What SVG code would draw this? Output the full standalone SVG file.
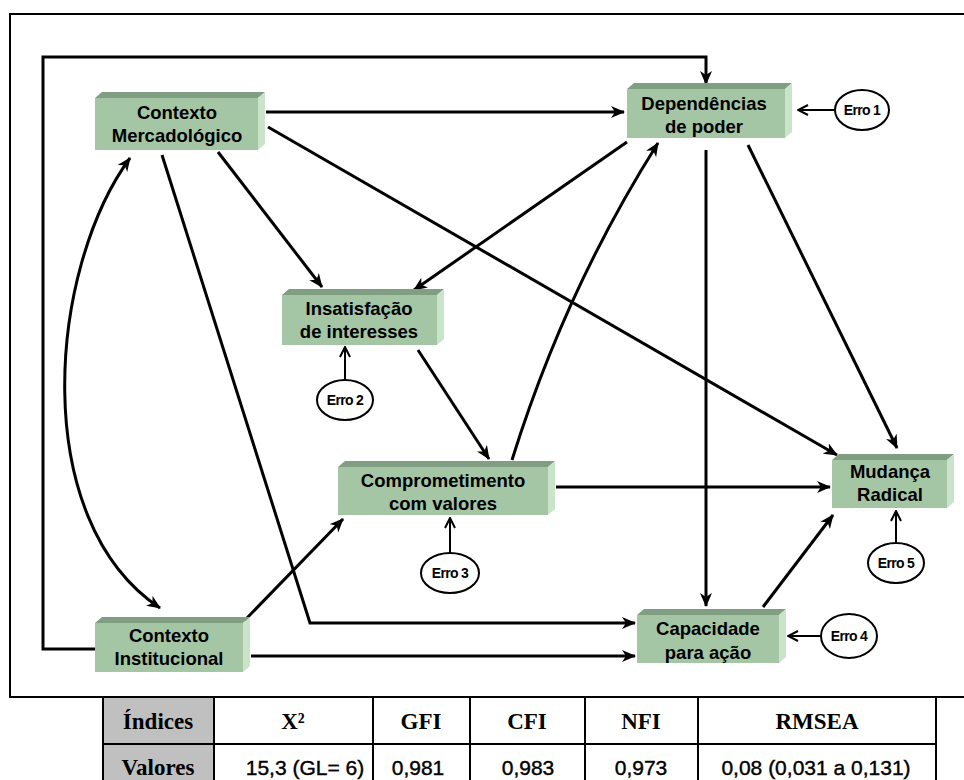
<svg xmlns="http://www.w3.org/2000/svg" width="964" height="780" viewBox="0 0 964 780">
  <style>
    .front { fill: #a4c6a4; }
    .top { fill: #7f9e82; }
    .side { fill: #c9e4c9; }
    .lbl { font-family: "Liberation Sans", Arial, sans-serif; font-weight: bold; font-size: 18.5px; fill: #000; text-anchor: middle; }
    .err { fill: #fff; stroke: #000; stroke-width: 2; }
    .errt { font-family: "Liberation Sans", Arial, sans-serif; font-weight: bold; font-size: 14px; letter-spacing: -0.7px; fill: #000; text-anchor: middle; }
    .edge { fill: none; stroke: #000; stroke-width: 3; marker-end: url(#arrow); }
    .eedge { fill: none; stroke: #000; stroke-width: 2; marker-end: url(#open); }
    .frame { fill: none; stroke: #000; stroke-width: 2; }
    .th { font-family: "Liberation Serif", "Times New Roman", serif; font-weight: bold; font-size: 23px; fill: #000; text-anchor: middle; }
    .td { font-family: "Liberation Sans", Arial, sans-serif; font-size: 21px; fill: #000; stroke: #000; stroke-width: 0.4; text-anchor: middle; }
  </style>
  <defs>
    <marker id="arrow" viewBox="0 0 14 12" refX="13" refY="6" markerWidth="14" markerHeight="12" markerUnits="userSpaceOnUse" orient="auto-start-reverse">
      <path d="M0,0 L14,6 L0,12 L4,6 z" fill="#000"/>
    </marker>
    <marker id="open" viewBox="0 0 12 12" refX="11" refY="6" markerWidth="12" markerHeight="12" markerUnits="userSpaceOnUse" orient="auto">
      <path d="M1,1 L11,6 L1,11" fill="none" stroke="#000" stroke-width="2"/>
    </marker>
  </defs>

  <rect width="964" height="780" fill="#fff"/>

  <!-- outer frame -->
  <path class="frame" d="M966,14 L10,14 L10,697 L966,697"/>

  <!-- connectors -->
  <g id="connectors">
    <path class="edge" d="M95,649 L43,649 L43,57 L706,57 L706,84"/>
    <path class="edge" d="M266,112 L624,112"/>
    <path class="edge" d="M268,127 L837,455"/>
    <path class="edge" d="M218,152 L322,287"/>
    <path class="edge" d="M162,155 L310,623 L635,623"/>
    <path class="edge" d="M130,158 C48,270 28,520 160,608" style="marker-start:url(#arrow)"/>
    <path class="edge" d="M627,142 L414,290"/>
    <path class="edge" d="M706,150 L706,606"/>
    <path class="edge" d="M748,145 L897,448"/>
    <path class="edge" d="M418,350 L489,459"/>
    <path class="edge" d="M512,460 Q565,290 658,143"/>
    <path class="edge" d="M556,487 L830,487"/>
    <path class="edge" d="M245,620 L343,519"/>
    <path class="edge" d="M251,656 L635,656"/>
    <path class="edge" d="M763,607 L833,515"/>
    <!-- error terms -->
    <path class="eedge" d="M835,110 L798,110"/>
    <path class="eedge" d="M345,380 L345,347"/>
    <path class="eedge" d="M450,553 L450,518"/>
    <path class="eedge" d="M821,636 L788,636"/>
    <path class="eedge" d="M896,543 L896,511"/>
  </g>

  <!-- nodes -->
  <g id="contexto-mercadologico">
    <polygon class="top" points="95,98 102,92 265,92 258,98"/>
    <polygon class="side" points="258,98 265,92 265,144 258,150"/>
    <rect class="front" x="95" y="98" width="163" height="52"/>
    <text class="lbl" x="177" y="119">Contexto</text>
    <text class="lbl" x="177" y="142">Mercadológico</text>
  </g>
  <g id="dependencias-de-poder">
    <polygon class="top" points="627,89 634,83 792,83 785,89"/>
    <polygon class="side" points="785,89 792,83 792,132 785,138"/>
    <rect class="front" x="627" y="89" width="158" height="49"/>
    <text class="lbl" x="704" y="110">Dependências</text>
    <text class="lbl" x="704" y="133">de poder</text>
  </g>
  <g id="insatisfacao">
    <polygon class="top" points="282,295 289,289 444,289 437,295"/>
    <polygon class="side" points="437,295 444,289 444,339 437,345"/>
    <rect class="front" x="282" y="295" width="155" height="50"/>
    <text class="lbl" x="359" y="315">Insatisfação</text>
    <text class="lbl" x="359" y="338">de interesses</text>
  </g>
  <g id="comprometimento">
    <polygon class="top" points="338,467 345,461 555,461 548,467"/>
    <polygon class="side" points="548,467 555,461 555,509 548,515"/>
    <rect class="front" x="338" y="467" width="210" height="48"/>
    <text class="lbl" x="443" y="487">Comprometimento</text>
    <text class="lbl" x="443" y="510">com valores</text>
  </g>
  <g id="mudanca-radical">
    <polygon class="top" points="832,460 839,454 954,454 947,460"/>
    <polygon class="side" points="947,460 954,454 954,502 947,508"/>
    <rect class="front" x="832" y="460" width="115" height="48"/>
    <text class="lbl" x="890" y="478">Mudança</text>
    <text class="lbl" x="890" y="501">Radical</text>
  </g>
  <g id="contexto-institucional">
    <polygon class="top" points="95,623 102,617 250,617 243,623"/>
    <polygon class="side" points="243,623 250,617 250,666 243,672"/>
    <rect class="front" x="95" y="623" width="148" height="49"/>
    <text class="lbl" x="169" y="642">Contexto</text>
    <text class="lbl" x="169" y="665">Institucional</text>
  </g>
  <g id="capacidade-para-acao">
    <polygon class="top" points="637,615 644,609 786,609 779,615"/>
    <polygon class="side" points="779,615 786,609 786,657 779,663"/>
    <rect class="front" x="637" y="615" width="142" height="48"/>
    <text class="lbl" x="708" y="635">Capacidade</text>
    <text class="lbl" x="708" y="659">para ação</text>
  </g>

  <g id="erro-1">
    <ellipse class="err" cx="862" cy="110" rx="27" ry="20"/>
    <text class="errt" x="862" y="115">Erro 1</text>
  </g>
  <g id="erro-2">
    <ellipse class="err" cx="345" cy="400" rx="28" ry="20"/>
    <text class="errt" x="345" y="405">Erro 2</text>
  </g>
  <g id="erro-3">
    <ellipse class="err" cx="450" cy="573" rx="29" ry="20"/>
    <text class="errt" x="450" y="578">Erro 3</text>
  </g>
  <g id="erro-4">
    <ellipse class="err" cx="849" cy="636" rx="28" ry="22"/>
    <text class="errt" x="849" y="641">Erro 4</text>
  </g>
  <g id="erro-5">
    <ellipse class="err" cx="896" cy="563" rx="28" ry="20"/>
    <text class="errt" x="896" y="568">Erro 5</text>
  </g>

  <!-- fit indices table -->
  <g id="tabela">
    <rect x="103" y="698" width="111" height="84" fill="#c0c0c0"/>
    <g stroke="#000" stroke-width="2" fill="none">
      <line x1="103" y1="697" x2="103" y2="782"/>
      <line x1="214" y1="697" x2="214" y2="782"/>
      <line x1="373" y1="697" x2="373" y2="782"/>
      <line x1="470" y1="697" x2="470" y2="782"/>
      <line x1="585" y1="697" x2="585" y2="782"/>
      <line x1="698" y1="697" x2="698" y2="782"/>
      <line x1="936" y1="697" x2="936" y2="782"/>
      <line x1="103" y1="744" x2="936" y2="744"/>
    </g>
    <text class="th" x="158" y="729">Índices</text>
    <text class="th" x="293" y="729">X²</text>
    <text class="th" x="421" y="729">GFI</text>
    <text class="th" x="527" y="729">CFI</text>
    <text class="th" x="641" y="729">NFI</text>
    <text class="th" x="817" y="729">RMSEA</text>
    <text class="th" x="158" y="775">Valores</text>
    <text class="td" x="305" y="775">15,3 (GL= 6)</text>
    <text class="td" x="418" y="775">0,981</text>
    <text class="td" x="528" y="775">0,983</text>
    <text class="td" x="641" y="775">0,973</text>
    <text class="td" x="816" y="775">0,08 (0,031 a 0,131)</text>
  </g>
</svg>
